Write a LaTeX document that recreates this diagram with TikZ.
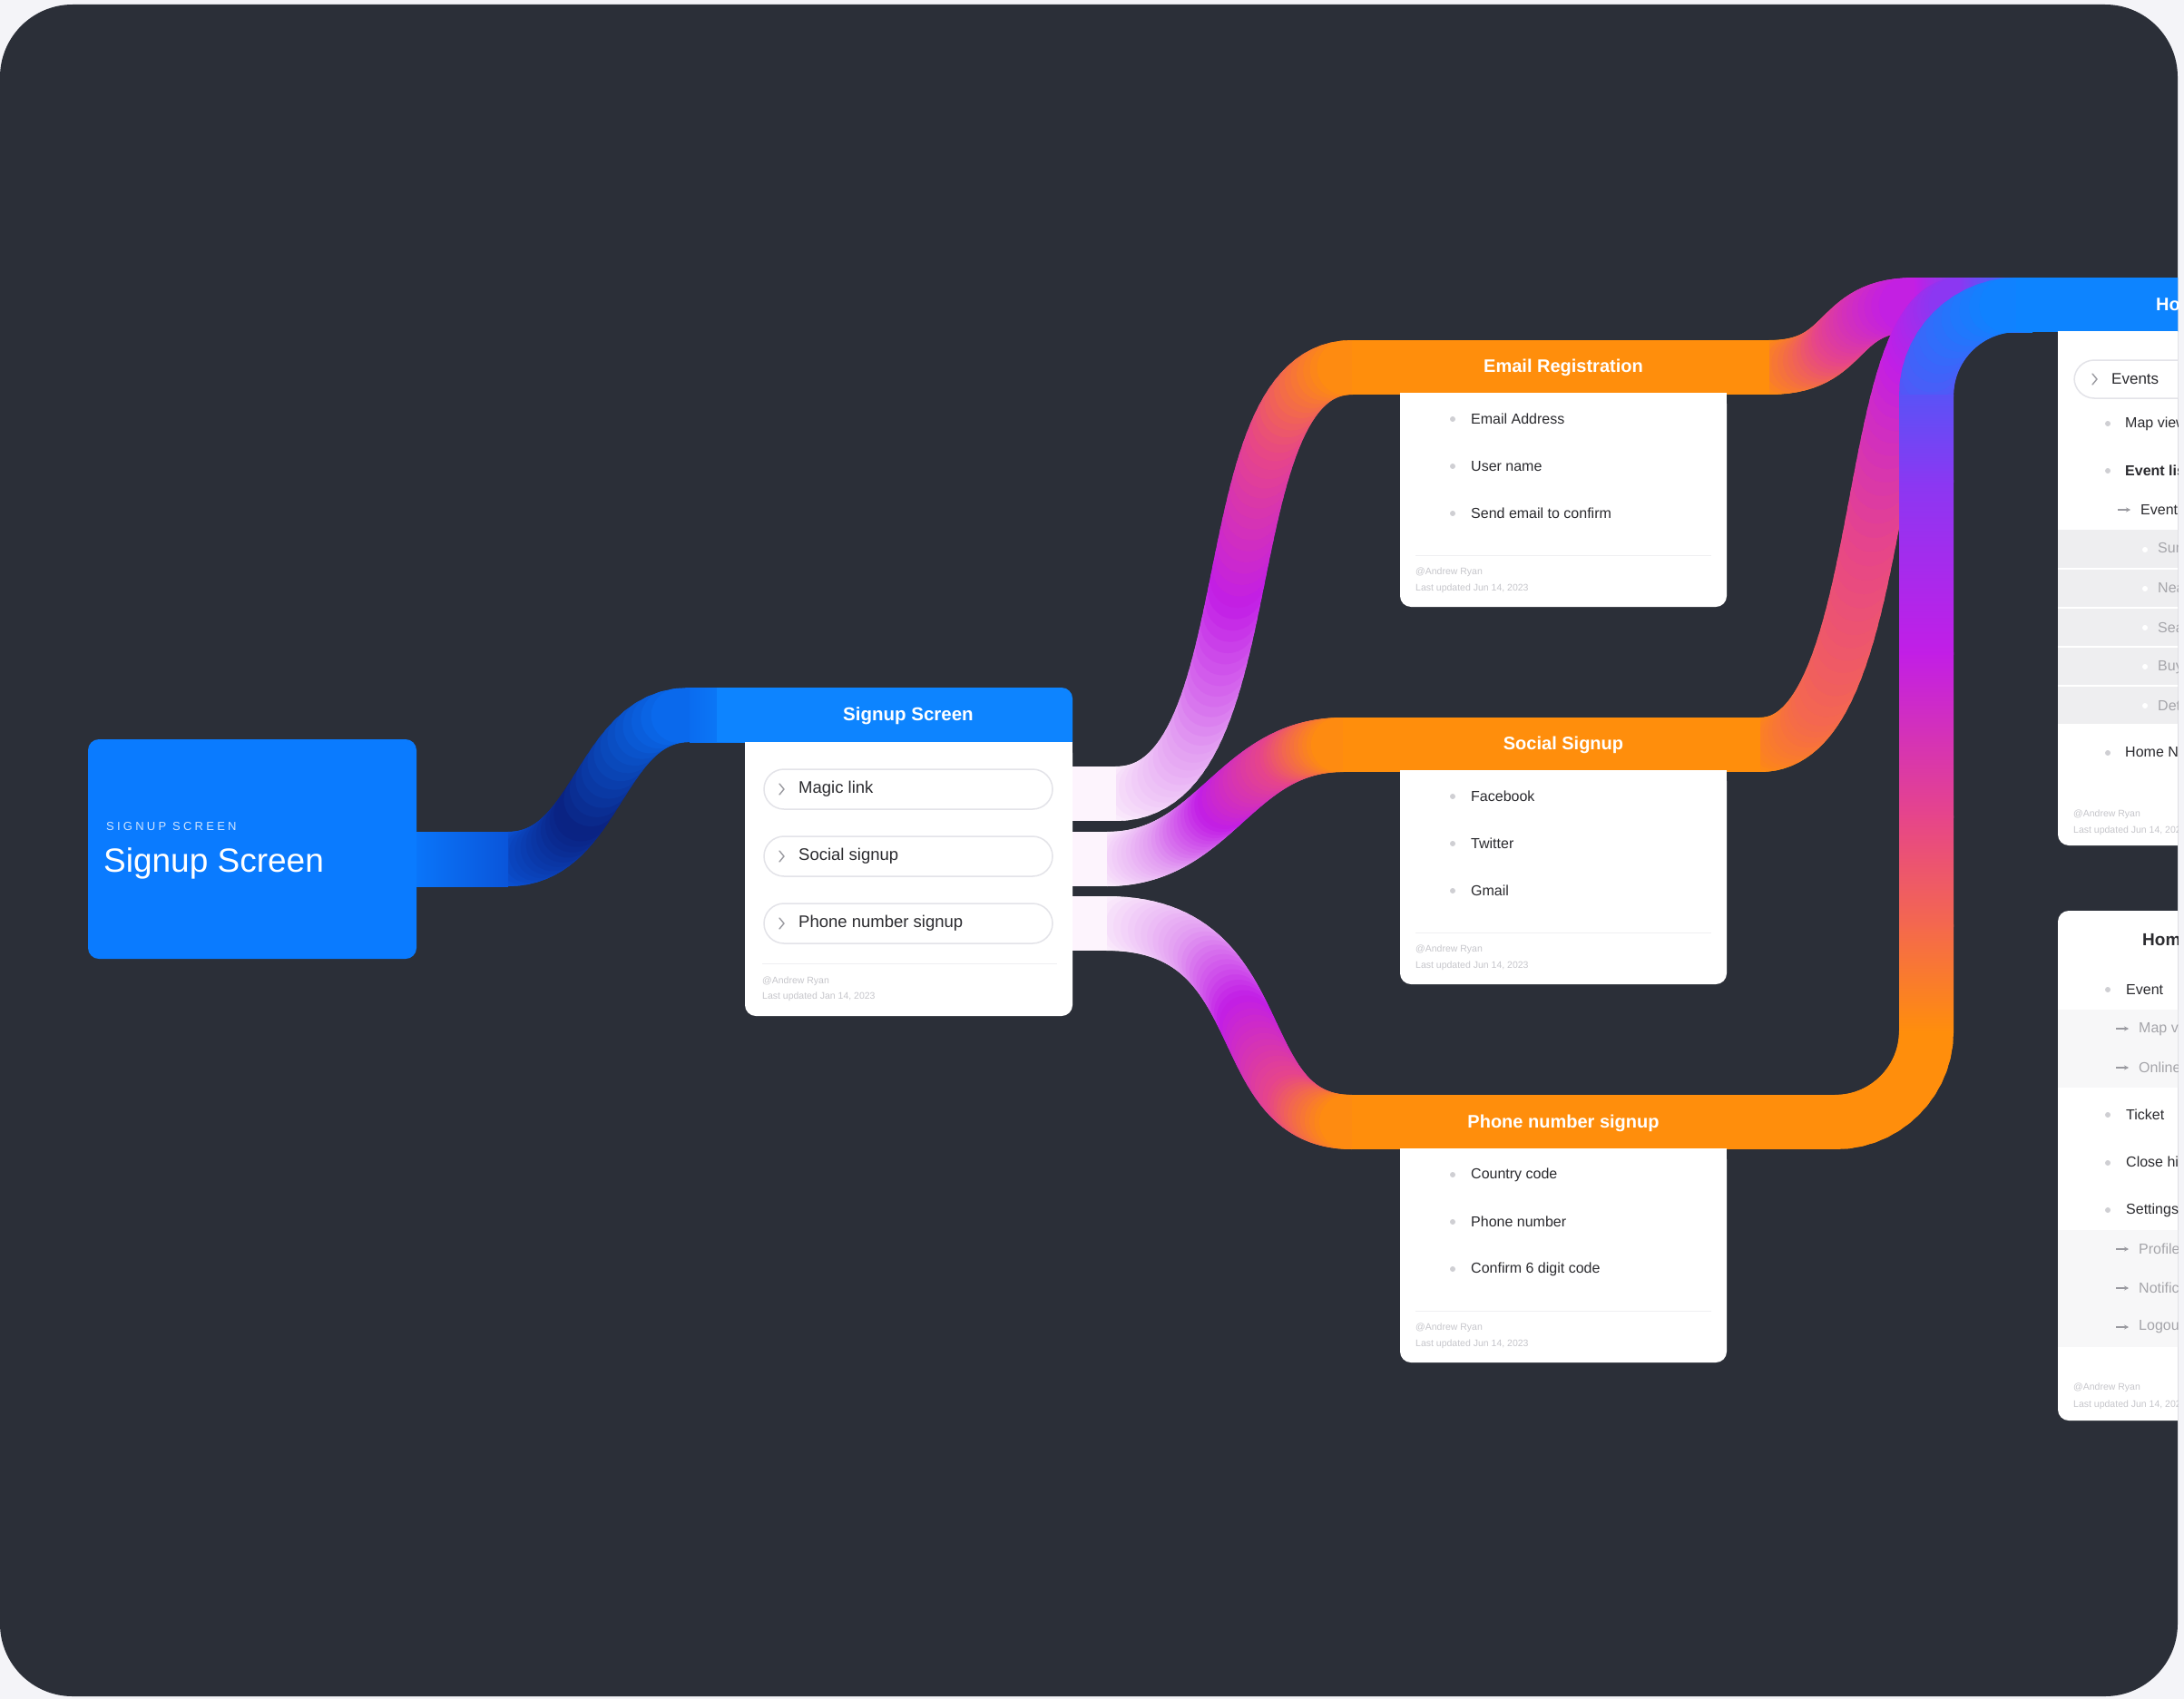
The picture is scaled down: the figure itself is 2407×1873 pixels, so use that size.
\documentclass[tikz,border=0pt]{standalone}
\usepackage{fontspec}
\setmainfont{Liberation Sans}
\usetikzlibrary{arrows.meta}
\definecolor{pagebg}{HTML}{F4F4F8}
\definecolor{framebg}{HTML}{2B2F38}
\definecolor{boxblue}{HTML}{0A7BFF}
\definecolor{hdrblue}{HTML}{0D84FF}
\definecolor{navy}{HTML}{0A2180}
\definecolor{midblue}{HTML}{0A55DA}
\definecolor{midblueb}{HTML}{0A6CF0}
\definecolor{rwhite}{HTML}{FDF4FD}
\definecolor{rlav}{HTML}{E3A0F2}
\definecolor{rpurple}{HTML}{C21EE6}
\definecolor{rpink}{HTML}{E6458A}
\definecolor{rorange}{HTML}{FF8E0C}
\definecolor{rorpink}{HTML}{F4684E}
\definecolor{rviolet}{HTML}{8A38F2}
\definecolor{rblueviolet}{HTML}{5A52F6}
\definecolor{itemtxt}{HTML}{2B2B2F}
\definecolor{bulletc}{HTML}{CFCFD3}
\definecolor{foottxt}{HTML}{C6C6CB}
\definecolor{pillline}{HTML}{E3E3E8}
\definecolor{chevc}{HTML}{9A9AA0}
\definecolor{subtxt}{HTML}{A5A5AA}
\definecolor{shadec}{HTML}{EEEEF0}
\definecolor{faintc}{HTML}{F7F7F8}
\definecolor{sepc}{HTML}{EFEFF2}
\definecolor{boxsmall}{HTML}{CFE4FF}

\newcommand\rN{14}
\newcommand\rcurve[8]{%
  \foreach \rk in {1,...,\rN}{%
    \pgfmathsetmacro\rta{#5+(#6-#5)*(\rk-1)/\rN}%
    \pgfmathsetmacro\rtb{#5+(#6-#5)*\rk/\rN}%
    \pgfmathtruncatemacro\rpc{100*(\rk-0.5)/\rN}%
    \path #1 .. controls #2 and #3 .. #4 coordinate[pos=\rta] (rA) coordinate[pos=\rtb] (rB);%
    \draw[ribbon, draw=#8!\rpc!#7] (rA) -- (rB);%
  }%
}

\tikzset{
  ribbon/.style={line width=60pt, line cap=round},
  itemtext/.style={anchor=west, inner sep=0pt, text=itemtxt, font=\fontsize{16}{19}\selectfont},
  subtext/.style={anchor=west, inner sep=0pt, text=subtxt, font=\fontsize{16}{19}\selectfont},
  pilltext/.style={anchor=west, inner sep=0pt, text=itemtxt, font=\fontsize{18.5}{22}\selectfont},
  foottext/.style={anchor=west, inner sep=0pt, text=foottxt, font=\fontsize{10.5}{12}\selectfont},
  hdrtext/.style={inner sep=0pt, text=white, font=\bfseries\fontsize{20}{24}\selectfont},
  bulletdot/.style={circle, fill=bulletc, minimum size=6pt, inner sep=0pt},
  subdot/.style={circle, fill=white, minimum size=6pt, inner sep=0pt},
  pill/.style={draw=pillline, line width=1.5pt, fill=white, rounded corners=22pt},
  chev/.style={draw=chevc, line width=1.4pt, line cap=round, line join=round},
  subarrow/.style={draw=chevc, line width=1.2pt, -{Stealth[length=5pt,width=5pt]}},
  cardbody/.style={fill=white, rounded corners=12pt},
}

\begin{document}
\begin{tikzpicture}[x=1pt,y=-1pt]
\useasboundingbox (0,0) rectangle (2407,1873);
\fill[pagebg] (0,0) rectangle (2407,1873);
\fill[framebg, rounded corners=80pt] (0,5) rectangle (2400,1870);
\begin{scope}
\clip[rounded corners=80pt] (0,5) rectangle (2400,1870);

% ---------- ribbon 1 (blue) ----------
\rcurve{(560,947)}{(660,947)}{(660,788)}{(760,788)}{0}{0.4}{midblue}{navy}
\rcurve{(560,947)}{(660,947)}{(660,788)}{(760,788)}{0.4}{1}{navy}{midblueb}
\shade[left color=boxblue, right color=midblue] (440,917) rectangle (560,977);
\shade[left color=midblueb, right color=hdrblue] (760,758) rectangle (830,818);

% ---------- Email ribbon ----------
\rcurve{(1230,875)}{(1400,875)}{(1330,405)}{(1490,405)}{0}{0.25}{rwhite}{rlav}
\rcurve{(1230,875)}{(1400,875)}{(1330,405)}{(1490,405)}{0.25}{0.5}{rlav}{rpurple}
\rcurve{(1230,875)}{(1400,875)}{(1330,405)}{(1490,405)}{0.5}{0.75}{rpurple}{rpink}
\rcurve{(1230,875)}{(1400,875)}{(1330,405)}{(1490,405)}{0.75}{1}{rpink}{rorange}
\rcurve{(1950,405)}{(2040,405)}{(2020,336)}{(2110,336)}{0}{0.5}{rorange}{rpink}
\rcurve{(1950,405)}{(2040,405)}{(2020,336)}{(2110,336)}{0.5}{1}{rpink}{rpurple}
\fill[rwhite] (1170,845) rectangle (1230,905);
\fill[rorange] (1490,375) rectangle (1950,435);
\shade[left color=rpurple, right color=hdrblue] (2110,306) rectangle (2230,366);
\fill[hdrblue] (2229,306) rectangle (2420,366);

% ---------- Social ribbon ----------
\rcurve{(1220,947)}{(1340,947)}{(1360,821)}{(1480,821)}{0}{0.25}{rwhite}{rlav}
\rcurve{(1220,947)}{(1340,947)}{(1360,821)}{(1480,821)}{0.25}{0.5}{rlav}{rpurple}
\rcurve{(1220,947)}{(1340,947)}{(1360,821)}{(1480,821)}{0.5}{0.8}{rpurple}{rpink}
\rcurve{(1220,947)}{(1340,947)}{(1360,821)}{(1480,821)}{0.8}{1}{rpink}{rorange}
\rcurve{(1940,821)}{(2085,821)}{(2050,336)}{(2160,336)}{0}{0.2}{rorange}{rorpink}
\rcurve{(1940,821)}{(2085,821)}{(2050,336)}{(2160,336)}{0.2}{0.5}{rorpink}{rpink}
\rcurve{(1940,821)}{(2085,821)}{(2050,336)}{(2160,336)}{0.5}{0.8}{rpink}{rpurple}
\rcurve{(1940,821)}{(2085,821)}{(2050,336)}{(2160,336)}{0.8}{1}{rpurple}{rviolet}
\fill[rwhite] (1170,917) rectangle (1220,977);
\fill[rorange] (1480,791) rectangle (1940,851);
\shade[left color=rviolet, right color=hdrblue] (2160,306) rectangle (2240,366);

% ---------- Phone ribbon ----------
\rcurve{(1220,1018)}{(1410,1018)}{(1350,1237)}{(1490,1237)}{0}{0.25}{rwhite}{rlav}
\rcurve{(1220,1018)}{(1410,1018)}{(1350,1237)}{(1490,1237)}{0.25}{0.5}{rlav}{rpurple}
\rcurve{(1220,1018)}{(1410,1018)}{(1350,1237)}{(1490,1237)}{0.5}{0.8}{rpurple}{rpink}
\rcurve{(1220,1018)}{(1410,1018)}{(1350,1237)}{(1490,1237)}{0.8}{1}{rpink}{rorange}
\rcurve{(2023,1237)}{(2078,1237)}{(2123,1192)}{(2123,1137)}{0}{1}{rorange}{rorange}
\rcurve{(2123,436)}{(2123,381)}{(2168,336)}{(2223,336)}{0}{1}{rblueviolet}{hdrblue}
\fill[rwhite] (1170,988) rectangle (1220,1048);
\fill[rorange] (1490,1207) rectangle (2024,1267);
\shade[top color=rorpink, bottom color=rorange] (2093,1019) rectangle (2153,1138);
\shade[top color=rpink, bottom color=rorpink] (2093,899) rectangle (2153,1021);
\shade[top color=rpurple, bottom color=rpink] (2093,719) rectangle (2153,901);
\shade[top color=rviolet, bottom color=rpurple] (2093,529) rectangle (2153,721);
\shade[top color=rblueviolet, bottom color=rviolet] (2093,435) rectangle (2153,531);
\fill[hdrblue] (2222,306) rectangle (2420,366);

% ---------- Signup Screen box ----------
\fill[boxblue, rounded corners=12pt] (97,815) rectangle (459,1057);
\node[anchor=west, inner sep=0pt, text=boxsmall,
      font={\fontsize{13}{15}\selectfont\addfontfeature{LetterSpace=25}}] (boxlabel) at (117,911) {SIGNUP SCREEN};
\node[anchor=west, inner sep=0pt, text=white, font=\fontsize{37}{44}\selectfont] (boxtitle) at (114,952) {Signup Screen};

% ---------- Signup Screen card ----------
\fill[hdrblue, rounded corners=12pt] (1100,758) rectangle (1182,830);
\fill[hdrblue] (790,758) rectangle (1160,818);
\fill[cardbody] (821,818) rectangle (1182,1120);
\fill[white] (821,818) rectangle (1182,850);
\node[hdrtext, font=\bfseries\fontsize{20.5}{24}\selectfont] (sshdr) at (1001,789) {Signup Screen};
\foreach \yy/\nm/\tx in {870/magic/Magic link, 944/social/Social signup, 1018/phone/Phone number signup}{
  \draw[pill] (842,\yy-22) rectangle (1160,\yy+22);
  \draw[chev] (859,\yy-6) -- (864,\yy) -- (859,\yy+6);
  \node[pilltext] (pill\nm) at (880,\yy) {\tx};
}
\draw[sepc, line width=1pt] (840,1062) -- (1165,1062);
\node[foottext] (ssf1) at (840,1082) {@Andrew Ryan};
\node[foottext] (ssf2) at (840,1099) {Last updated Jan 14, 2023};

% ---------- orange cards ----------
\foreach \top/\nm/\hd/\ia/\ib/\ic in {434/email/Email Registration/Email Address/User name/Send email to confirm,
                                     850/soc/Social Signup/Facebook/Twitter/Gmail,
                                     1267/ph/Phone number signup/Country code/Phone number/Confirm 6 digit code}{
  \fill[cardbody] (1543,\top-1) rectangle (1903,\top+235);
  \fill[white] (1543,\top-1) rectangle (1903,\top+30);
  \node[hdrtext] (\nm hdr) at (1723,\top-29) {\hd};
  \node[bulletdot] (\nm b1) at (1601,\top+28) {};
  \node[bulletdot] (\nm b2) at (1601,\top+80) {};
  \node[bulletdot] (\nm b3) at (1601,\top+132) {};
  \node[itemtext] (\nm i1) at (1621,\top+28) {\ia};
  \node[itemtext] (\nm i2) at (1621,\top+80) {\ib};
  \node[itemtext] (\nm i3) at (1621,\top+132) {\ic};
  \draw[sepc, line width=1pt] (1560,\top+178) -- (1886,\top+178);
  \node[foottext] (\nm f1) at (1560,\top+197) {@Andrew Ryan};
  \node[foottext] (\nm f2) at (1560,\top+215) {Last updated Jun 14, 2023};
}

% ---------- Home card 1 ----------
\fill[cardbody] (2268,365) rectangle (2440,932);
\fill[white] (2268,365) rectangle (2440,400);
\node[hdrtext, anchor=west] (h1hdr) at (2376,336) {Home};
\draw[pill] (2286,397) rectangle (2460,439);
\draw[chev] (2306,412) -- (2311,418) -- (2306,424);
\node[itemtext, font=\fontsize{17}{20}\selectfont] (h1events) at (2327,418) {Events};
\node[bulletdot] (h1b1) at (2323,467) {};
\node[itemtext] (h1i1) at (2342,467) {Map view};
\node[bulletdot] (h1b2) at (2323,519) {};
\node[itemtext, font=\bfseries\fontsize{16}{19}\selectfont] (h1i2) at (2342,519) {Event list};
\draw[subarrow] (2334,562) -- (2348,562);
\node[itemtext] (h1i3) at (2359,562) {Event details};
\fill[shadec] (2268,584) rectangle (2440,798);
\foreach \yy in {627,670,713,756}{\draw[white, line width=1.5pt] (2268,\yy) -- (2440,\yy);}
\foreach \yy/\nm/\tx in {606/a/Summary, 649/b/Nearby, 692/c/Search, 735/d/Buy tickets, 778/e/Details}{
  \node[subdot] (h1d\nm) at (2364,\yy) {};
  \node[subtext] (h1s\nm) at (2378,\yy) {\tx};
}
\node[bulletdot] (h1b3) at (2323,830) {};
\node[itemtext] (h1i4) at (2342,830) {Home Navigation};
\node[foottext] (h1f1) at (2285,898) {@Andrew Ryan};
\node[foottext] (h1f2) at (2285,916) {Last updated Jun 14, 2023};

% ---------- Home card 2 ----------
\fill[cardbody] (2268,1004) rectangle (2440,1566);
\node[anchor=west, inner sep=0pt, text=itemtxt, font=\bfseries\fontsize{19}{23}\selectfont] (h2title) at (2361,1036) {Home};
\fill[faintc] (2268,1113) rectangle (2440,1199);
\fill[faintc] (2268,1356) rectangle (2440,1485);
\foreach \yy/\nm/\tx in {1091/a/Event, 1229/b/Ticket, 1282/c/Close history, 1334/d/Settings}{
  \node[bulletdot] (h2b\nm) at (2323,\yy) {};
  \node[itemtext] (h2i\nm) at (2343,\yy) {\tx};
}
\foreach \yy/\nm/\tx in {1134/a/Map view, 1177/b/Online events, 1377/c/Profile, 1420/d/Notifications, 1463/e/Logout}{
  \draw[subarrow] (2332,\yy) -- (2346,\yy);
  \node[itemtext, text=subtxt] (h2s\nm) at (2357,\yy) {\tx};
}
\node[foottext] (h2f1) at (2285,1530) {@Andrew Ryan};
\node[foottext] (h2f2) at (2285,1549) {Last updated Jun 14, 2023};
\end{scope}
\end{tikzpicture}
\end{document}
